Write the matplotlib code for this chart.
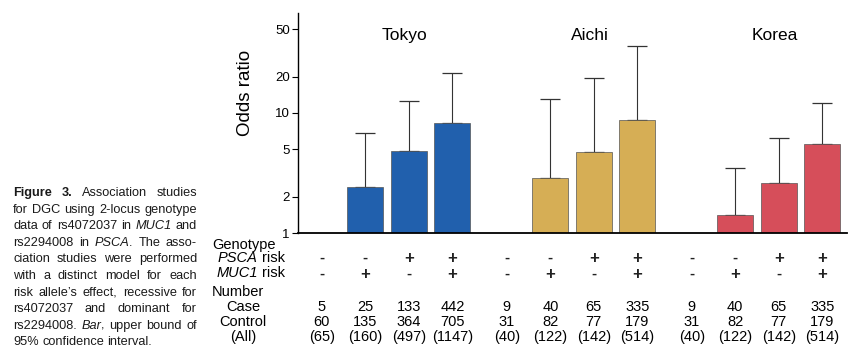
import matplotlib
matplotlib.use("Agg")
import matplotlib.pyplot as plt
import matplotlib.transforms as mtransforms

plt.rcParams['font.family'] = ['Liberation Sans', 'DejaVu Sans']

# Data ###################################################################
cohorts = ["Tokyo", "Aichi", "Korea"]
cohort_colors = ["#2160ad", "#d6ae55", "#d64e5a"]
psca_risk = ["-", "-", "+", "+"]
muc1_risk = ["-", "+", "-", "+"]
odds = {
    "Tokyo": [1.0, 2.42, 4.82, 8.25],
    "Aichi": [1.0, 2.87, 4.73, 8.75],
    "Korea": [1.0, 1.41, 2.61, 5.5],
}
upper_ci = {
    "Tokyo": [1.0, 6.8, 12.6, 21.5],
    "Aichi": [1.0, 13.1, 19.6, 36.2],
    "Korea": [1.0, 3.47, 6.2, 12.1],
}
cases = {
    "Tokyo": [5, 25, 133, 442],
    "Aichi": [9, 40, 65, 335],
    "Korea": [9, 40, 65, 335],
}
controls = {
    "Tokyo": [60, 135, 364, 705],
    "Aichi": [31, 82, 77, 179],
    "Korea": [31, 82, 77, 179],
}
yticks = [1, 2, 5, 10, 20, 50]

caption = [
    [[("Figure", "b")], [("3.", "b")], [("Association", "n")], [("studies", "n")]],
    "for DGC using 2-locus genotype",
    [[("data", "n")], [("of", "n")], [("rs4072037", "n")], [("in", "n")], [("MUC1", "i")], [("and", "n")]],
    [[("rs2294008", "n")], [("in", "n")], [("PSCA", "i"), (".", "n")], [("The", "n")], [("asso-", "n")]],
    "ciation studies were performed",
    "with a distinct model for each",
    "risk allele\u2019s effect, recessive for",
    "rs4072037 and dominant for",
    [[("rs2294008.", "n")], [("Bar", "i"), (",", "n")], [("upper", "n")], [("bound", "n")], [("of", "n")]],
    "95% confidence interval.",
]

# Figure #################################################################
W, H = 848, 347
fig = plt.figure(figsize=(W / 100, H / 100), dpi=100)
renderer = fig.canvas.get_renderer()

def fy(py):
    return 1 - py / H

style_kw = {"n": {}, "b": {"fontweight": "bold"}, "i": {"style": "italic"}}

def text_width(s, st, fs):
    t = fig.text(0, 0, s, fontsize=fs, **style_kw[st])
    w = t.get_window_extent(renderer).width
    t.remove()
    return w

ax = fig.add_axes([298 / W, fy(233), (847 - 298) / W, (233 - 13) / H])

step_group = 4.25
bar_w = 0.83
positions = {}
for g, name in enumerate(cohorts):
    xs = [g * step_group + i for i in range(4)]
    positions[name] = xs
    vals = odds[name]
    ax.bar(xs[1:], [v - 1 for v in vals[1:]], bottom=1, width=bar_w,
           color=cohort_colors[g], edgecolor="#555555", linewidth=0.5, zorder=2)
    err = [u - v for u, v in zip(upper_ci[name][1:], vals[1:])]
    ax.errorbar(xs[1:], vals[1:], yerr=[[0] * 3, err], fmt="none",
                ecolor="#333333", elinewidth=0.8, capsize=7.5, capthick=0.9, zorder=1)
    ax.text(g * step_group + 1.9, 44, name, ha="center", va="center", fontsize=12.5)

ax.set_yscale("log")
ax.set_ylim(1, 68)
ax.set_xlim(-0.55, 12.07)
ax.set_yticks(yticks)
ax.set_yticklabels([str(t) for t in yticks], fontsize=9.5)
ax.minorticks_off()
ax.tick_params(axis="y", length=4, width=0.8, pad=2)
ax.set_xticks([])
for s in ["top", "right"]:
    ax.spines[s].set_visible(False)
ax.spines["left"].set_linewidth(1.0)
ax.spines["bottom"].set_linewidth(1.3)
fig.text(245 / W, fy(93), "Odds ratio", rotation=90, ha="center", va="center", fontsize=13.5)

# Table under the axis ###################################################
trans = mtransforms.blended_transform_factory(ax.transData, fig.transFigure)
fs = 10.5
risk_w = text_width(" risk", "n", fs)
fig.text(212 / W, fy(245), "Genotype", ha="left", va="center", fontsize=fs)
for gene, py in [("PSCA", 258), ("MUC1", 273)]:
    fig.text(285 / W, fy(py), "risk", ha="right", va="center", fontsize=fs)
    fig.text((285 - risk_w) / W, fy(py), gene, ha="right", va="center", fontsize=fs, style="italic")
fig.text(212 / W, fy(292), "Number", ha="left", va="center", fontsize=fs)
fig.text(243 / W, fy(307), "Case", ha="center", va="center", fontsize=fs)
fig.text(243 / W, fy(322), "Control", ha="center", va="center", fontsize=fs)
fig.text(243 / W, fy(337), "(All)", ha="center", va="center", fontsize=fs)

for name in cohorts:
    for i, x in enumerate(positions[name]):
        for sign, py in [(psca_risk[i], 258), (muc1_risk[i], 274)]:
            ax.text(x, fy(py), sign, transform=trans, ha="center", va="center",
                    fontsize=12 if sign == "+" else 11, fontweight="bold", color="#222222")
        ax.text(x, fy(307), str(cases[name][i]), transform=trans, ha="center", va="center", fontsize=fs)
        ax.text(x, fy(322), str(controls[name][i]), transform=trans, ha="center", va="center", fontsize=fs)
        ax.text(x, fy(337), "(%d)" % (cases[name][i] + controls[name][i]), transform=trans,
                ha="center", va="center", fontsize=fs)

# Caption, justified #####################################################
cap_fs = 9.2
space_w = text_width("a a", "n", cap_fs) - text_width("aa", "n", cap_fs)
x_left, x_right = 13, 197
for k, line in enumerate(caption):
    if isinstance(line, str):
        line = [[(w, "n")] for w in line.split(" ")]
    widths = [sum(text_width(p, st, cap_fs) for p, st in word) for word in line]
    last = k == len(caption) - 1
    gap = space_w if last else (x_right - x_left - sum(widths)) / (len(line) - 1)
    py = 193 + k * 16.6
    x = x_left
    for word, w in zip(line, widths):
        xx = x
        for p, st in word:
            fig.text(xx / W, fy(py), p, fontsize=cap_fs, va="center", ha="left",
                     color="#1a1a1a", **style_kw[st])
            xx += text_width(p, st, cap_fs)
        x += w + gap

fig.savefig("out.png", dpi=100)
